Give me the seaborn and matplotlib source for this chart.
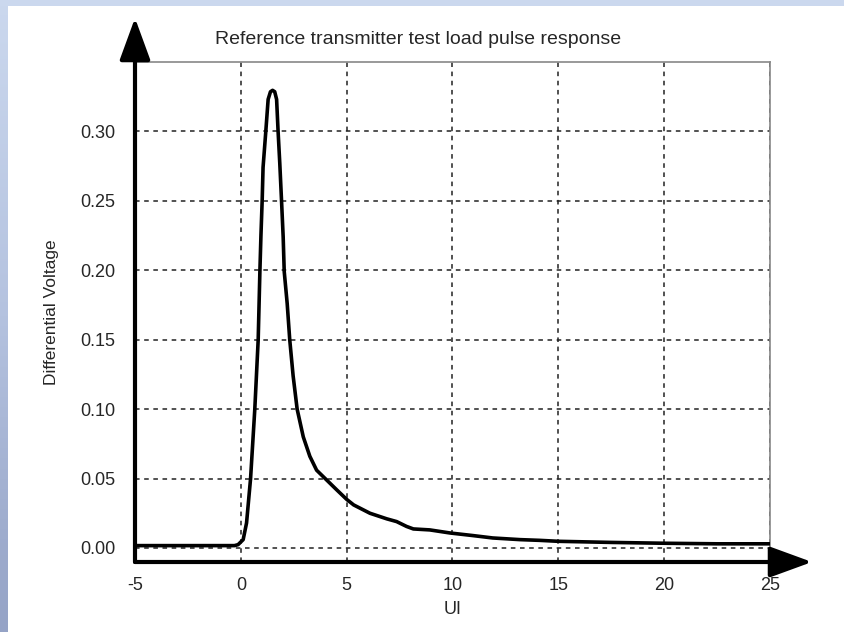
import numpy as np
import pandas as pd
import matplotlib
matplotlib.use("Agg")
import matplotlib.pyplot as plt
from matplotlib.colors import LinearSegmentedColormap
from matplotlib.patches import Rectangle, FancyArrowPatch
import seaborn as sns

# ---- data ----
ui = [-5.0, -1.0, -0.3, -0.13, 0.11, 0.27, 0.46, 0.66, 0.82, 0.90, 0.95, 1.01, 1.05, 1.18,
      1.29, 1.40, 1.50, 1.60, 1.69, 1.76, 1.84, 1.92, 2.00, 2.05, 2.19, 2.31, 2.47,
      2.66, 2.95, 3.26, 3.58, 4.05, 4.52, 5.0, 5.33, 6.1, 6.89, 7.36, 7.83, 8.15,
      8.93, 9.88, 10.98, 11.9, 13.2, 14.1, 15.0, 17.5, 20.0, 22.5, 25.0]
voltage = [0.0017, 0.0017, 0.0017, 0.0024, 0.006, 0.018, 0.050, 0.100, 0.150, 0.199,
           0.225, 0.251, 0.274, 0.300, 0.323, 0.3285, 0.3295, 0.3285, 0.323, 0.300,
           0.277, 0.251, 0.224, 0.199, 0.176, 0.150, 0.124, 0.100, 0.080, 0.066,
           0.056, 0.049, 0.042, 0.035, 0.031, 0.025, 0.021, 0.019, 0.0155, 0.0137,
           0.013, 0.0108, 0.0089, 0.0072, 0.006, 0.0055, 0.0048, 0.004, 0.0034,
           0.003, 0.003]
x_ticks = [-5, 0, 5, 10, 15, 20, 25]
y_ticks = [0.00, 0.05, 0.10, 0.15, 0.20, 0.25, 0.30]
title = "Reference transmitter test load pulse response"
x_label = "UI"
y_label = "Differential Voltage"

df = pd.DataFrame({"UI": ui, "V": voltage})

sns.set_style("white")
plt.rcParams["font.family"] = ["Liberation Sans", "DejaVu Sans"]

W, H = 844, 632
fig = plt.figure(figsize=(W / 100, H / 100), dpi=100)
fig.patch.set_facecolor("white")

# background frame: top strip and left gradient strip
fig.patches.append(Rectangle((0, 1 - 6 / H), 1, 6 / H, transform=fig.transFigure,
                             facecolor="#cbd8ee", edgecolor="none", zorder=0))
bg = fig.add_axes([0, 0, 7 / W, 1])
cmap = LinearSegmentedColormap.from_list("frame", ["#cbd8ee", "#b4c2df", "#95a3c6"])
bg.imshow(np.linspace(0, 1, 256).reshape(-1, 1), aspect="auto", cmap=cmap)
bg.set_axis_off()

left, right, top, bottom = 135, 770, 62, 562
ax = fig.add_axes([left / W, 1 - bottom / H, (right - left) / W, (bottom - top) / H])

sns.lineplot(data=df, x="UI", y="V", ax=ax, color="black", linewidth=2.6, zorder=5)

ax.set_xlim(-5, 25)
ax.set_ylim(-0.0101, 0.3499)
ax.set_xticks(x_ticks)
ax.set_xticklabels([str(t) for t in x_ticks], fontsize=13)
ax.set_yticks(y_ticks)
ax.set_yticklabels([f"{t:.2f}" for t in y_ticks], fontsize=13)
ax.tick_params(axis="x", length=0, pad=11)
ax.tick_params(axis="y", length=0, pad=14)
ax.grid(True, color="#222222", linestyle=(0, (3, 3)), linewidth=1.1)
ax.set_xlabel(x_label, fontsize=13, labelpad=5)
ax.set_ylabel(y_label, fontsize=12.5, labelpad=15)

for s in ["top", "right"]:
    ax.spines[s].set_color("#888888")
    ax.spines[s].set_linewidth(1.2)
for s in ["left", "bottom"]:
    ax.spines[s].set_visible(False)

# axis arrows
for end in [(left, H - 18), (812, H - bottom)]:
    fig.add_artist(FancyArrowPatch(
        (left, H - bottom), end, transform=None,
        arrowstyle="-|>,head_length=26,head_width=9.5", mutation_scale=1,
        shrinkA=0, shrinkB=0, color="black", linewidth=3.0))

fig.text(418 / W, 1 - 40 / H, title, ha="center", va="center", fontsize=14)

fig.savefig("out.png", dpi=100)
